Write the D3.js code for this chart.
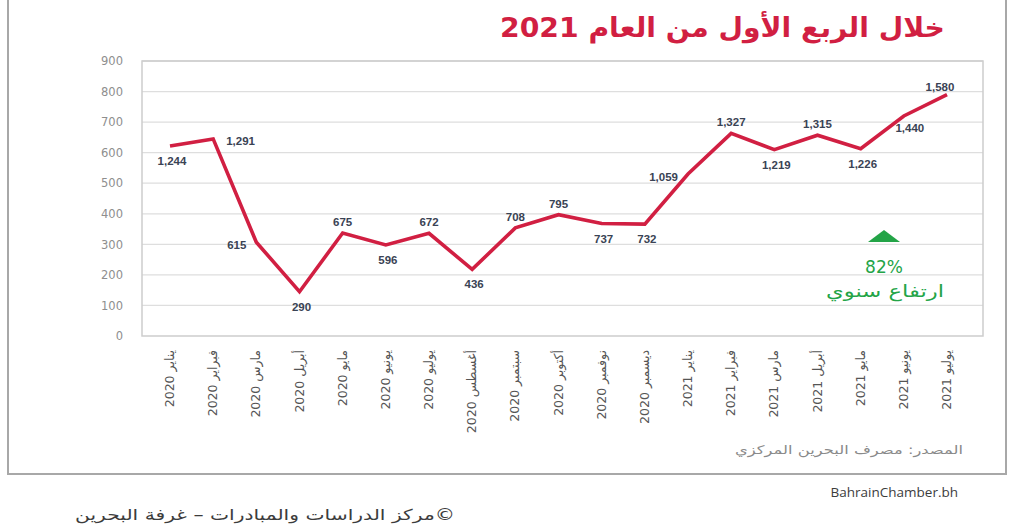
<!DOCTYPE html>
<html>
<head>
<meta charset="utf-8">
<script src="https://cdn.jsdelivr.net/npm/d3@7"></script>
<style>
  html, body { margin: 0; padding: 0; background: #fff; }
  svg { display: block; }
</style>
</head>
<body>
<div id="chart"></div>
<script>
// Months (Jan 2020 .. Jul 2021)
const months = [
  'يناير 2020', 'فبراير 2020', 'مارس 2020', 'أبريل 2020', 'مايو 2020', 'يونيو 2020',
  'يوليو 2020', 'أغسطس 2020', 'سبتمبر 2020', 'أكتوبر 2020', 'نوفمبر 2020', 'ديسمبر 2020',
  'يناير 2021', 'فبراير 2021', 'مارس 2021', 'أبريل 2021', 'مايو 2021', 'يونيو 2021', 'يوليو 2021'
]
// line position as read against the axis
const plotted = [622, 645, 307, 145, 337, 298, 336, 218, 354, 397, 368, 366, 530, 663, 610, 657, 613, 720, 790]
// labels printed on the points
const valueLabels = ['1,244', '1,291', '615', '290', '675', '596', '672', '436', '708', '795',
  '737', '732', '1,059', '1,327', '1,219', '1,315', '1,226', '1,440', '1,580']
// where each label sits relative to its point
const labelSide = ['b', 'r', 'l', 'b', 'a', 'b', 'a', 'b', 'a', 'a', 'b', 'b', 'l', 'a', 'b', 'a', 'b', 'br', 'al']
const yTicks = [0, 100, 200, 300, 400, 500, 600, 700, 800, 900]

const W = 1021, H = 531
const plot = { left: 142, right: 983, top: 61, bottom: 336 }
const red = '#d11f42', green = '#23a447', navy = '#3a4354'
const arFont = '"DejaVu Sans", sans-serif'
const RLM = '\u200F'

const svg = d3.select('#chart').append('svg').attr('width', W).attr('height', H)

// outer frame
svg.append('rect').attr('x', 8).attr('y', -3).attr('width', 998).attr('height', 477)
  .attr('fill', '#fff').attr('stroke', '#a8a8a8').attr('stroke-width', 2)

// title
svg.append('text').attr('x', 945).attr('y', 37).attr('text-anchor', 'end')
  .attr('fill', red).style('font-family', arFont).style('font-size', '27px').style('font-weight', 'bold')
  .attr('textLength', 445).attr('lengthAdjust', 'spacingAndGlyphs')
  .text('خلال الربع الأول من العام 2021')

const x = d3.scalePoint().domain(months).range([170, 947])
const y = d3.scaleLinear().domain([0, 900]).range([plot.bottom, plot.top])

// grid
svg.append('g').selectAll('line').data(yTicks.slice(1)).join('line')
  .attr('x1', plot.left).attr('x2', plot.right)
  .attr('y1', d => y(d)).attr('y2', d => y(d))
  .attr('stroke', '#dedede').attr('stroke-width', 1.3)

svg.append('rect').attr('x', plot.left).attr('y', plot.top)
  .attr('width', plot.right - plot.left).attr('height', plot.bottom - plot.top)
  .attr('fill', 'none').attr('stroke', '#cdcdcd').attr('stroke-width', 1.5)

// y axis labels
const yAxis = svg.append('g').attr('transform', `translate(${plot.left - 19},0)`)
  .call(d3.axisLeft(y).tickValues(yTicks).tickSize(0).tickPadding(0))
yAxis.select('.domain').remove()
yAxis.selectAll('text').attr('fill', '#8e8e8e').style('font-family', arFont)
  .style('font-size', '11.5px')

// x axis labels (rotated)
svg.append('g').selectAll('text').data(months).join('text')
  .attr('transform', d => `translate(${x(d) + 4},350) rotate(-90)`)
  .attr('text-anchor', 'end')
  .attr('fill', '#555').style('font-family', arFont).style('font-size', '12.5px')
  .text(d => d)

// line
const line = d3.line().x((d, i) => x(months[i])).y(d => y(d))
svg.append('path').datum(plotted).attr('d', line)
  .attr('fill', 'none').attr('stroke', red).attr('stroke-width', 3.6)
  .attr('stroke-linejoin', 'miter')

// value labels
const off = {
  a: { dx: 0, dy: -11, anchor: 'middle' },
  b: { dx: 2, dy: 15, anchor: 'middle' },
  r: { dx: 13, dy: 2, anchor: 'start' },
  l: { dx: -10, dy: 3, anchor: 'end' },
  br: { dx: 6, dy: 12, anchor: 'middle' },
  al: { dx: -7, dy: -8, anchor: 'middle' }
}
svg.append('g').selectAll('text').data(plotted).join('text')
  .attr('x', (d, i) => x(months[i]) + off[labelSide[i]].dx)
  .attr('y', (d, i) => y(d) + off[labelSide[i]].dy)
  .attr('text-anchor', (d, i) => off[labelSide[i]].anchor)
  .attr('dominant-baseline', 'central')
  .attr('fill', navy).style('font-family', 'Arial, "Liberation Sans", sans-serif')
  .style('font-size', '11.5px').style('font-weight', 'bold')
  .text((d, i) => valueLabels[i])

// yearly growth annotation
const ax = 884
svg.append('path').attr('d', `M${ax - 16},242 L${ax},230 L${ax + 16},242 Z`).attr('fill', green)
svg.append('text').attr('x', ax).attr('y', 267).attr('text-anchor', 'middle').attr('dominant-baseline', 'central')
  .attr('fill', green).style('font-family', arFont).style('font-size', '17px')
  .text('82%')
svg.append('text').attr('x', ax + 60).attr('y', 291).attr('text-anchor', 'end').attr('dominant-baseline', 'central')
  .attr('fill', green).style('font-family', arFont).style('font-size', '17px')
  .attr('textLength', 118).attr('lengthAdjust', 'spacingAndGlyphs')
  .text('ارتفاع سنوي')

// source
svg.append('text').attr('x', 963).attr('y', 450).attr('text-anchor', 'end').attr('dominant-baseline', 'central')
  .attr('fill', '#8a8a8a').style('font-family', arFont).style('font-size', '12px')
  .attr('textLength', 228).attr('lengthAdjust', 'spacingAndGlyphs')
  .text('المصدر: مصرف البحرين المركزي')

// footer
svg.append('text').attr('x', 958).attr('y', 492).attr('text-anchor', 'end').attr('dominant-baseline', 'central')
  .attr('fill', '#3c3c3c').style('font-family', '"Open Sans", Arial, sans-serif').style('font-size', '13.5px')
  .text('BahrainChamber.bh')
svg.append('text').attr('x', 455).attr('y', 515).attr('text-anchor', 'end').attr('dominant-baseline', 'central')
  .attr('fill', '#3c3c3c').style('font-family', arFont).style('font-size', '15px')
  .attr('textLength', 380).attr('lengthAdjust', 'spacingAndGlyphs')
  .text(RLM + '©مركز الدراسات والمبادرات – غرفة البحرين')
</script>
</body>
</html>
